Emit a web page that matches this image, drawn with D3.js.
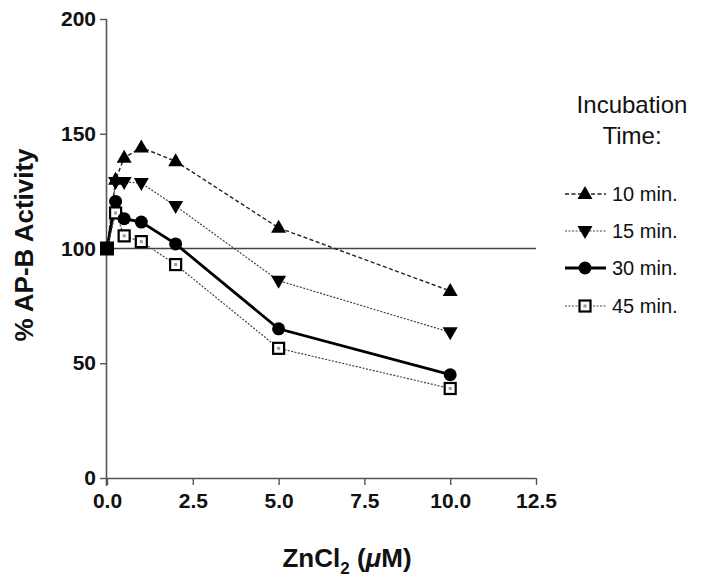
<!DOCTYPE html>
<html><head><meta charset="utf-8">
<script src="https://cdn.jsdelivr.net/npm/d3@7"></script>
<style>body{margin:0;background:#fff}svg{display:block}text{font-family:"Liberation Sans",Arial,sans-serif}</style>
</head><body>
<svg id="c" width="709" height="582"></svg>
<script>
const zinc = [0, 0.25, 0.5, 1, 2, 5, 10];
const min10 = [100, 130, 139.5, 144, 138, 109, 81.5];
const min15 = [100, 129, 129, 128.5, 118.5, 86, 63.5];
const min30 = [100, 120.5, 113, 111.5, 102, 65, 45];
const min45 = [100, 115.5, 105.5, 103, 93, 56.5, 39];
const seriesNames = ["10 min.", "15 min.", "30 min.", "45 min."];
const xTicks = [0, 2.5, 5, 7.5, 10, 12.5];
const yTicks = [0, 50, 100, 150, 200];
const refLevel = 100;

const svg = d3.select("#c");
const x = d3.scaleLinear().domain([0, 12.5]).range([107, 536]);
const y = d3.scaleLinear().domain([0, 200]).range([478, 19]);

const axisColor = "#555";
const ya = svg.append("g").attr("transform", `translate(${x(0)},0)`)
  .call(d3.axisLeft(y).tickValues(yTicks).tickSize(7).tickPadding(4).tickFormat(d3.format("d")));
const xa = svg.append("g").attr("transform", `translate(0,${y(0)})`)
  .call(d3.axisBottom(x).tickValues(xTicks).tickSize(7).tickPadding(8).tickFormat(d3.format(".1f")));
[ya, xa].forEach(g => {
  g.select(".domain").attr("stroke", axisColor).attr("stroke-width", 1.6);
  g.selectAll(".tick line").attr("stroke", axisColor).attr("stroke-width", 1.4);
  g.selectAll("text").attr("font-size", 21).attr("font-weight", "bold").attr("fill", "#111")
    .style("font-family", '"Liberation Sans",Arial,sans-serif');
});
ya.select(".domain").attr("d", `M-0.5,${y(200)}V${y(0)+8}`);
xa.select(".domain").attr("d", `M${x(0)},0.5H${x(12.5)}`);

svg.append("line").attr("x1", x(0)).attr("x2", x(12.5)).attr("y1", y(refLevel)).attr("y2", y(refLevel))
  .attr("stroke", "#444").attr("stroke-width", 1.6);

const styles = [
  {vals: min10, dash: "4,2.5", w: 1.4, color: "#222", sym: "tri"},
  {vals: min15, dash: "2,1.5", w: 1.2, color: "#444", sym: "itri"},
  {vals: min30, dash: null, w: 2.8, color: "#000", sym: "circ"},
  {vals: min45, dash: "2,1.5", w: 1.2, color: "#444", sym: "sq"}
];

function drawSym(g, type, cx, cy) {
  if (type === "tri") {
    g.append("path").attr("d", `M${cx},${cy-8}L${cx+7.5},${cy+5}L${cx-7.5},${cy+5}Z`).attr("fill", "#000");
  } else if (type === "itri") {
    g.append("path").attr("d", `M${cx},${cy+8}L${cx+7.5},${cy-5}L${cx-7.5},${cy-5}Z`).attr("fill", "#000");
  } else if (type === "circ") {
    g.append("circle").attr("cx", cx).attr("cy", cy).attr("r", 6.5).attr("fill", "#000");
  } else if (type === "sq") {
    g.append("rect").attr("x", cx-5.5).attr("y", cy-5.5).attr("width", 11).attr("height", 11)
      .attr("fill", "#fff").attr("stroke", "#000").attr("stroke-width", 2.2);
    g.append("rect").attr("x", cx-1.5).attr("y", cy-1.5).attr("width", 3).attr("height", 3).attr("fill", "#999");
  }
}

const line = d3.line().x((d, i) => x(zinc[i])).y(d => y(d));
styles.forEach(s => {
  svg.append("path").datum(s.vals).attr("d", line).attr("fill", "none")
    .attr("stroke", s.color).attr("stroke-width", s.w)
    .attr("stroke-dasharray", s.dash);
});
styles.slice().reverse().forEach(s => {
  const g = svg.append("g");
  s.vals.forEach((v, i) => {
    if (i === 0) return;
    drawSym(g, s.sym, x(zinc[i]), y(v));
  });
});
svg.append("rect").attr("x", x(0)-7).attr("y", y(100)-7).attr("width", 14).attr("height", 14).attr("fill", "#000");

svg.append("text").attr("transform", `translate(33,245) rotate(-90)`)
  .attr("text-anchor", "middle").attr("font-size", 26).attr("font-weight", "bold").attr("fill", "#111")
  .text("% AP-B Activity");
const xt = svg.append("text").attr("x", 347).attr("y", 567).attr("text-anchor", "middle")
  .attr("font-size", 26).attr("font-weight", "bold").attr("fill", "#111");
xt.append("tspan").text("ZnCl");
xt.append("tspan").attr("font-size", 17).attr("dy", 7).text("2");
xt.append("tspan").attr("dy", -7).text(" (");
xt.append("tspan").attr("font-style", "italic").text("μ");
xt.append("tspan").text("M)");

svg.append("text").attr("x", 632).attr("y", 113).attr("text-anchor", "middle").attr("font-size", 24).attr("fill", "#111").text("Incubation");
svg.append("text").attr("x", 632).attr("y", 144).attr("text-anchor", "middle").attr("font-size", 24).attr("fill", "#111").text("Time:");
const ly = [194, 231, 268, 306];
styles.forEach((s, i) => {
  const g = svg.append("g");
  g.append("line").attr("x1", 565).attr("x2", 606).attr("y1", ly[i]).attr("y2", ly[i])
    .attr("stroke", s.color).attr("stroke-width", s.w).attr("stroke-dasharray", s.dash);
  drawSym(g, s.sym, 585, ly[i]);
  g.append("text").attr("x", 612).attr("y", ly[i] + 7).attr("font-size", 20).attr("fill", "#111").text(seriesNames[i]);
});
</script>
</body></html>
